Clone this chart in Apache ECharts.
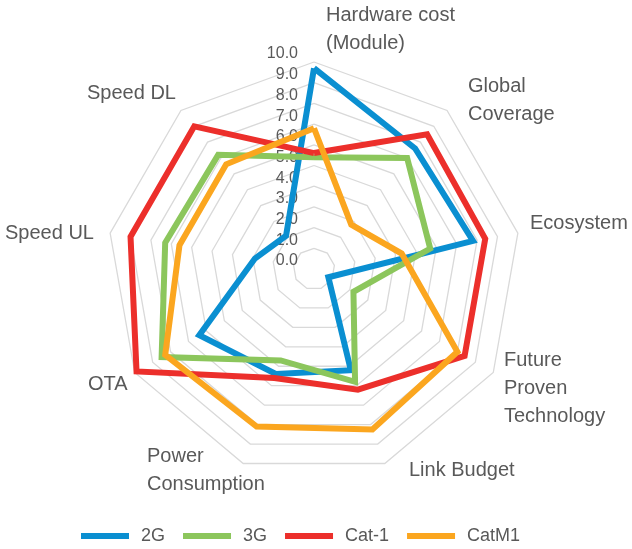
<!DOCTYPE html>
<html><head><meta charset="utf-8">
<script src="https://cdn.jsdelivr.net/npm/echarts@6/dist/echarts.min.js"></script>
<style>html,body{margin:0;padding:0;background:#fff}#c{width:632px;height:549px}</style>
</head><body><div id="c"></div>
<script>
// Categories in clockwise order starting from the top
const categories = ['Hardware cost\n(Module)', 'Global\nCoverage', 'Ecosystem', 'Future\nProven\nTechnology', 'Link Budget', 'Power\nConsumption', 'OTA', 'Speed UL', 'Speed DL'];
const seriesNames = ['2G', '3G', 'Cat-1', 'CatM1'];
const values2G    = [9.7, 7.6, 7.8, 0.8, 5.2, 5.4, 6.4, 2.9, 2.1];
const values3G    = [5.4, 7.0, 5.7, 2.2, 5.8, 4.7, 8.5, 7.3, 7.2];
const valuesCat1  = [5.6, 8.5, 8.4, 8.4, 6.2, 5.6, 9.9, 9.0, 9.0];
const valuesCatM1 = [6.8, 2.8, 4.3, 8.0, 8.25, 8.1, 8.3, 6.6, 6.6];
const tickLabels = ['0.0','1.0','2.0','3.0','4.0','5.0','6.0','7.0','8.0','9.0','10.0'];
const axisMin = 0, axisMax = 10;

const colors = ['#0a8fd1', '#8cc65c', '#ec2f2b', '#fba61f'];
// layout of category labels (left x, first line center y)
const nameLayout = [[326, 15], [468, 86], [530, 223], [504, 360], [409, 470], [147, 456], [88, 384], [5, 233], [87, 93]];

// ECharts radar runs counter-clockwise: reorder so the picture runs clockwise
const order = [0, 8, 7, 6, 5, 4, 3, 2, 1];
const allValues = [values2G, values3G, valuesCat1, valuesCatM1];

const chart = echarts.init(document.getElementById('c'), null, {renderer: 'canvas'});
chart.setOption({
  animation: false,
  color: colors,
  radar: {
    center: [314, 269],
    radius: 207,
    startAngle: 90,
    splitNumber: tickLabels.length - 1,
    shape: 'polygon',
    indicator: order.map((k, j) => {
      const ind = {name: categories[k], min: axisMin, max: axisMax};
      if (j === 0) {
        ind.axisLabel = {
          show: true, fontSize: 16, color: '#595959', fontFamily: 'Liberation Sans',
          margin: 16, verticalAlign: 'bottom',
          formatter: (v) => tickLabels[Math.round(v - axisMin)] || ''
        };
      }
      return ind;
    }),
    axisName: {show: false},
    splitLine: {lineStyle: {color: '#d9d9d9', width: 1.3}},
    splitArea: {show: false},
    axisLine: {show: false},
    axisTick: {show: false},
    axisLabel: {show: false}
  },
  legend: {
    left: 76, top: 522, icon: 'rect', itemWidth: 48, itemHeight: 6, itemGap: 18,
    textStyle: {fontSize: 18, color: '#595959', fontFamily: 'Liberation Sans', padding: [0, 0, 0, 7]},
    data: seriesNames
  },
  series: [{
    type: 'radar',
    symbol: 'none',
    data: seriesNames.map((n, i) => ({
      name: n,
      value: order.map(k => allValues[i][k]),
      lineStyle: {color: colors[i], width: 6, join: 'miter', miterLimit: 10},
      itemStyle: {color: colors[i]}
    }))
  }],
  graphic: categories.map((c, i) => ({
    type: 'text',
    x: nameLayout[i][0],
    y: nameLayout[i][1] - 14,
    style: {
      text: c, fill: '#595959', font: '20px "Liberation Sans"', lineHeight: 28,
      textAlign: 'left', textVerticalAlign: 'top'
    }
  }))
});
</script></body></html>
